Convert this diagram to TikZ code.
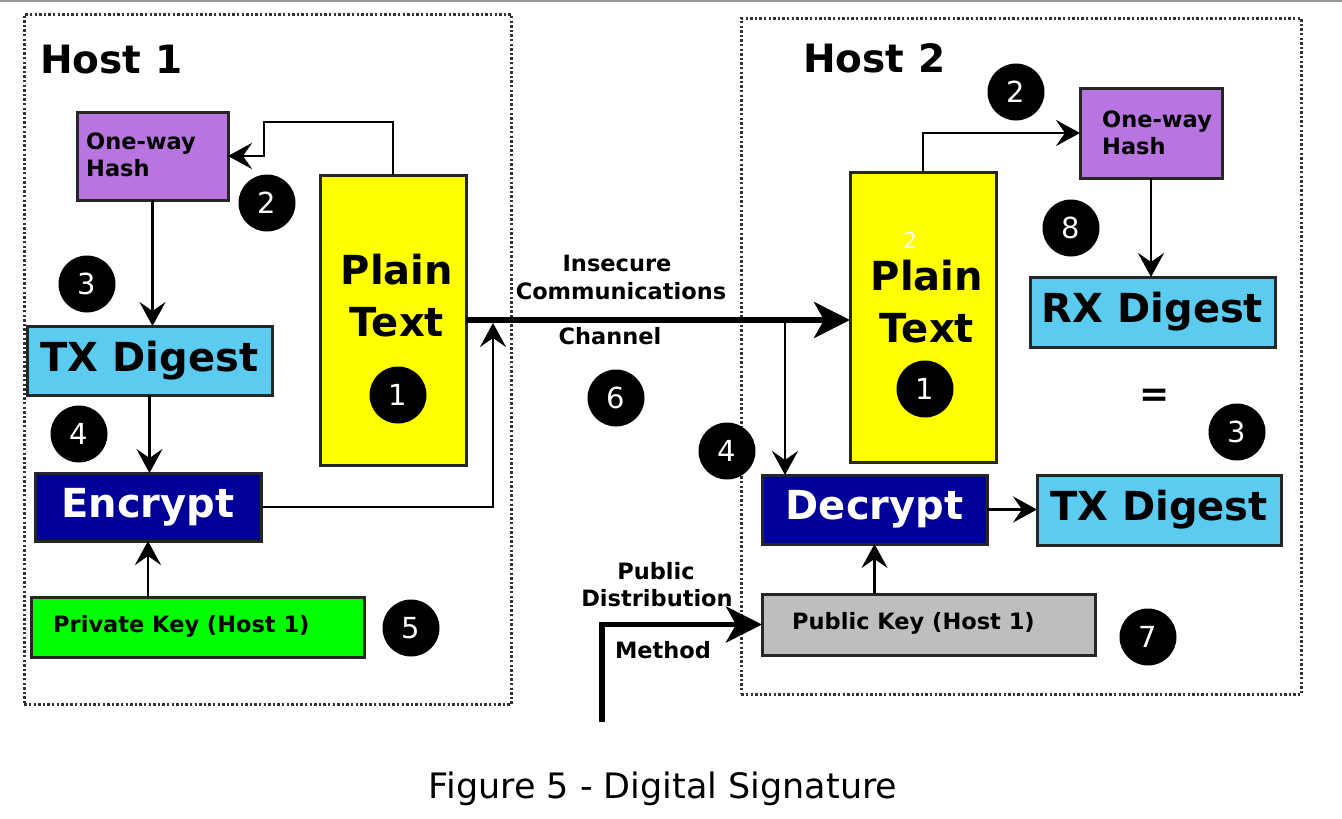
\documentclass[tikz,border=0pt]{standalone}
\usepackage{fontspec}
\setmainfont{DejaVu Sans}
\usetikzlibrary{arrows.meta}
\definecolor{hashpurple}{HTML}{B875E0}
\definecolor{plainyellow}{HTML}{FFFF00}
\definecolor{digestblue}{HTML}{5BCCF0}
\definecolor{cryptblue}{HTML}{000099}
\definecolor{keygreen}{HTML}{00FF00}
\definecolor{keygray}{HTML}{BEBEBE}
\begin{document}
\begin{tikzpicture}[x=1pt,y=-1pt,
 box/.style={draw=black!85, line width=3pt, inner sep=0pt, outer sep=0pt, anchor=north west},
 big/.style={font=\fontsize{40}{52}\selectfont\bfseries, align=center},
 small/.style={font=\fontsize{22.5}{27}\selectfont\bfseries, align=left, inner sep=0pt},
 lbl/.style={font=\fontsize{22.5}{24}\selectfont\bfseries, inner sep=0pt},
 num/.style={circle, fill=black, minimum size=57pt, inner sep=0pt, text=white, font=\fontsize{29}{29}\selectfont},
 arr/.style={line width=2.8pt, -{Stealth[length=24pt,width=26pt,inset=9pt]}},
 thickarr/.style={line width=5.5pt, -{Stealth[length=36pt,width=36pt,inset=10pt]}},
 host/.style={draw=black!80, line width=2.8pt, dash pattern=on 2.4pt off 2.2pt, anchor=north west, inner sep=0pt},
]
\useasboundingbox (0,0) rectangle (1342,819);
\draw[black!40, line width=2pt] (0,1) -- (1342,1);

% host frames
\node[host, minimum width=487pt, minimum height=690pt] (host1) at (23,13) {};
\node[host, minimum width=560pt, minimum height=676pt] (host2) at (740,17) {};
\node[font=\fontsize{39}{39}\selectfont\bfseries, anchor=base west, inner sep=0pt] (host1t) at (40,73) {Host 1};
\node[font=\fontsize{39}{39}\selectfont\bfseries, anchor=base west, inner sep=0pt] (host2t) at (803,72) {Host 2};

% Host 1 boxes
\node[box, fill=hashpurple, minimum width=151pt, minimum height=88pt] (h1hash) at (77,112) {};
\node[small, anchor=west] (h1hasht) at (86,155) {One-way\\Hash};
\node[box, fill=plainyellow, minimum width=146pt, minimum height=290pt] (h1plain) at (320,175) {};
\node[big] (h1plaint) at (397,296) {Plain\\Text};
\node[box, fill=digestblue, minimum width=245pt, minimum height=69pt, big] (h1tx) at (27,326) {TX Digest};
\node[box, fill=cryptblue, minimum width=226pt, minimum height=68pt, big, text=white] (h1enc) at (35,473) {Encrypt};
\node[box, fill=keygreen, minimum width=333pt, minimum height=60pt] (h1priv) at (31,597) {};
\node[small, anchor=west] (h1privt) at (53,626) {Private Key (Host 1)};

% Host 2 boxes
\node[box, fill=hashpurple, minimum width=142pt, minimum height=90pt] (h2hash) at (1080,88) {};
\node[small, anchor=west] (h2hasht) at (1102,133) {One-way\\Hash};
\node[box, fill=plainyellow, minimum width=146pt, minimum height=290pt] (h2plain) at (850,172) {};
\node[font=\fontsize{22}{22}\selectfont, text=white] (h2small) at (910,240) {2};
\node[big] (h2plaint) at (927,302) {Plain\\Text};
\node[box, fill=digestblue, minimum width=245pt, minimum height=70pt, big] (h2rx) at (1030,277) {RX Digest};
\node[font=\fontsize{36}{36}\selectfont\bfseries] (eq) at (1155,398) {=};
\node[box, fill=cryptblue, minimum width=225pt, minimum height=69pt, big, text=white] (h2dec) at (762,475) {Decrypt};
\node[box, fill=digestblue, minimum width=244pt, minimum height=70pt, big] (h2tx) at (1037,475) {TX Digest};
\node[box, fill=keygray, minimum width=333pt, minimum height=61pt] (h2pub) at (762,594) {};
\node[small, anchor=west] (h2pubt) at (792,623) {Public Key (Host 1)};

% numbers
\node[num] (n1a) at (398,395) {1};
\node[num] (n2a) at (267,203) {2};
\node[num] (n3a) at (87,284) {3};
\node[num] (n4a) at (79,434) {4};
\node[num] (n5a) at (411,628) {5};
\node[num] (n6) at (616,398) {6};
\node[num] (n2b) at (1016,92) {2};
\node[num] (n8) at (1071,228) {8};
\node[num] (n1b) at (925,389) {1};
\node[num] (n3b) at (1237,432) {3};
\node[num] (n4b) at (727,451) {4};
\node[num] (n7) at (1148,637) {7};

% channel labels
\node[lbl] (l1) at (617,263) {Insecure};
\node[lbl] (l2) at (621,291) {Communications};
\node[lbl] (l3) at (610,336) {Channel};
\node[lbl] (l4) at (656,571) {Public};
\node[lbl] (l5) at (657,598) {Distribution};
\node[lbl] (l6) at (663,650) {Method};

% coordinates
\coordinate (joinA) at (493,323);
\coordinate (branch) at (785,320);
\coordinate (pubstart) at (602,722);

% connectors host 1
\draw[arr] (h1plain.north) |- (264,122) |- (h1hash.east);
\draw[arr] (h1hash.south) -- (h1hash.south |- h1tx.north);
\draw[arr] (h1tx.south) -- (h1tx.south |- h1enc.north);
\draw[arr] (h1enc.south |- h1priv.north) -- (h1enc.south);
\draw[arr] (h1enc.east) -| (joinA);

% channel
\draw[thickarr] (h1plain.east) -- (h1plain.east -| h2plain.west);
\draw[arr] (branch) -- (branch |- h2dec.north);
\draw[thickarr] (pubstart) |- (h2pub.west);

% connectors host 2
\draw[arr] (h2plain.north) |- (h2hash.west);
\draw[arr] (h2hash.south) -- (h2hash.south |- h2rx.north);
\draw[arr] (h2dec.east) -- (h2dec.east -| h2tx.west);
\draw[arr] (h2dec.south |- h2pub.north) -- (h2dec.south);

% caption
\node[font=\fontsize{35}{35}\selectfont] (caption) at (663,789) {Figure 5 - Digital Signature};
\end{tikzpicture}
\end{document}
